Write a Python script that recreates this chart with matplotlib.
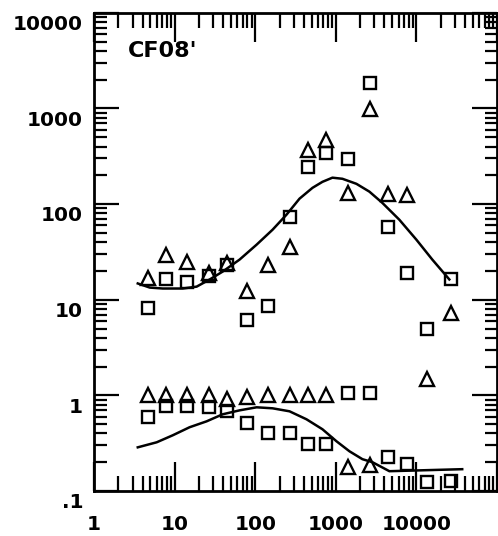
import matplotlib.pyplot as plt
from matplotlib.ticker import FixedLocator, LogLocator, NullFormatter
from matplotlib.transforms import ScaledTranslation

# upper set (x, triangles / squares)
up_tri_x = [4.6, 7.7, 14.1, 27, 45, 78, 142, 266, 445, 765, 1430, 2690, 4490, 7710, 13650, 27000]
up_tri_y = [17, 29.6, 25, 19.2, 24, 12.2, 23.3, 35.9, 370, 470, 131, 990, 128, 125, 1.5, 7.35]
up_sq_x = [4.6, 7.7, 14.1, 27, 45, 78, 142, 266, 445, 765, 1430, 2690, 4490, 7710, 13650, 27000]
up_sq_y = [8.1, 16.3, 15.5, 17.9, 23.3, 6.2, 8.5, 74, 246, 344, 298, 1850, 58, 19.2, 4.9, 16.3]
up_fit_x = [3.48, 4.9, 7.1, 12.6, 18.7, 27.2, 39.4, 63.9, 104, 164, 244, 354, 513, 682,
            907, 1207, 1800, 2608, 3776, 6133, 9980, 15740, 25600]
up_fit_y = [14.8, 13.4, 13.1, 13.1, 13.7, 16.3, 19.7, 26.3, 37.7, 54, 77.5, 114, 148, 171,
            189, 184, 163, 135, 103, 68.7, 42.5, 26.3, 16.3]

# lower set
lo_tri_x = [4.6, 7.7, 14.1, 27, 45, 78, 142, 266, 445, 765, 1430, 2690]
lo_tri_y = [1.0, 1.0, 1.0, 1.0, 0.91, 0.95, 1.0, 1.0, 1.0, 1.0, 0.18, 0.185]
lo_sq_x = [4.6, 7.7, 14.1, 27, 45, 78, 142, 266, 445, 765, 1430, 2690, 4490, 7710, 13650, 27000]
lo_sq_y = [0.59, 0.78, 0.78, 0.75, 0.68, 0.51, 0.40, 0.40, 0.31, 0.31, 1.07, 1.07, 0.225, 0.19, 0.125, 0.127]
lo_fit_x = [3.48, 5.98, 9.44, 15.3, 24.9, 39.4, 63.9, 104, 164, 266, 432, 682, 1018,
            1476, 2138, 2844, 4617, 37000]
lo_fit_y = [0.286, 0.323, 0.382, 0.464, 0.535, 0.634, 0.697, 0.75, 0.732, 0.681, 0.562,
            0.442, 0.331, 0.26, 0.215, 0.20, 0.161, 0.169]

x_ticks = [1, 10, 100, 1000, 10000]
x_labels = ['1', '10', '100', '1000', '10000']
y_ticks = [0.1, 1, 10, 100, 1000, 10000]
y_labels = ['.1', '1', '10', '100', '1000', '10000']

FONT = 'DejaVu Sans'

fig = plt.figure(figsize=(4.98, 5.36), dpi=100)
ax = fig.add_axes([0.189, 0.084, 0.809, 0.892])
ax.set_xscale('log')
ax.set_yscale('log')
ax.set_xlim(1, 1e5)
ax.set_ylim(0.1, 1e4)

mk = dict(linestyle='none', markerfacecolor='none', markeredgecolor='black',
          markeredgewidth=1.7)
ax.plot(up_tri_x, up_tri_y, marker='^', markersize=9.5, **mk)
ax.plot(up_sq_x, up_sq_y, marker='s', markersize=8.5, **mk)
ax.plot(lo_tri_x, lo_tri_y, marker='^', markersize=9.5, **mk)
ax.plot(lo_sq_x, lo_sq_y, marker='s', markersize=8.5, **mk)
ax.plot(up_fit_x, up_fit_y, color='black', lw=1.8, solid_joinstyle='round')
ax.plot(lo_fit_x, lo_fit_y, color='black', lw=1.8, solid_joinstyle='round')

for s in ax.spines.values():
    s.set_linewidth(2)

ax.xaxis.set_major_locator(FixedLocator(x_ticks + [100000]))
ax.set_xticklabels(x_labels + [''])
ax.yaxis.set_major_locator(FixedLocator(y_ticks))
ax.set_yticklabels(y_labels)
ax.xaxis.set_minor_locator(LogLocator(base=10, subs=range(2, 10), numticks=20))
ax.yaxis.set_minor_locator(LogLocator(base=10, subs=range(2, 10), numticks=20))
ax.xaxis.set_minor_formatter(NullFormatter())
ax.yaxis.set_minor_formatter(NullFormatter())

ax.tick_params(which='both', direction='in', top=True, right=True, width=1.6, color='black')
ax.tick_params(axis='x', which='major', length=21, pad=17)
ax.tick_params(axis='x', which='minor', length=11)
ax.tick_params(axis='y', which='major', length=18, pad=8)
ax.tick_params(axis='y', which='minor', length=9)

for lab in ax.get_xticklabels() + ax.get_yticklabels():
    lab.set_fontfamily(FONT)
    lab.set_fontweight('bold')
    lab.set_fontsize(14.5)

# y labels sit a little below their ticks
shift = ScaledTranslation(0, -7 / 72, fig.dpi_scale_trans)
for lab in ax.get_yticklabels():
    lab.set_transform(lab.get_transform() + shift)

ax.text(0.085, 0.92, "CF08'", transform=ax.transAxes, fontfamily=FONT,
        fontweight='bold', fontsize=16, ha='left', va='center')

fig.savefig('out.png', dpi=100)
